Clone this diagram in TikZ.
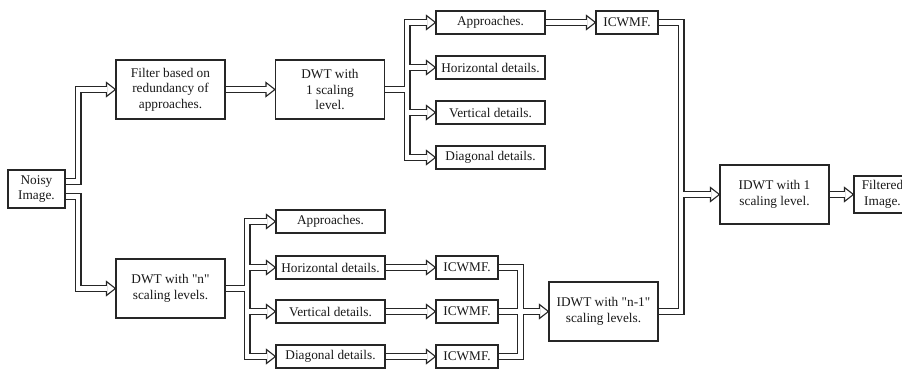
\documentclass[tikz,border=0pt]{standalone}
\usepackage{fontspec}
\setmainfont{Liberation Serif}
\pgfdeclarelayer{bg}
\pgfdeclarelayer{back}
\pgfsetlayers{back,bg,main}
\newcommand\allconns[1]{%
  % Noisy image split
  \draw[#1] ([yshift=7.5pt]noisy.east) -| (tA |- filter.west) -- (filter.west);
  \draw[#1] ([yshift=-7.5pt]noisy.east) -| (tA |- dwtn.west) -- (dwtn.west);
  % upper chain
  \draw[#1] (filter.east) -- (dwt1.west);
  \draw[#1] (dwt1.east) -| (tD |- app1.west) -- (app1.west);
  \draw[#1] (dwt1.east) -| (tD |- hor1.west) -- (hor1.west);
  \draw[#1] (dwt1.east) -| (tD |- ver1.west) -- (ver1.west);
  \draw[#1] (dwt1.east) -| (tD |- dia1.west) -- (dia1.west);
  \draw[#1] (app1.east) -- (icw1.west);
  % lower chain
  \draw[#1] (dwtn.east) -| (tE |- app2.west) -- (app2.west);
  \draw[#1] (dwtn.east) -| (tE |- hor2.west) -- (hor2.west);
  \draw[#1] (dwtn.east) -| (tE |- ver2.west) -- (ver2.west);
  \draw[#1] (dwtn.east) -| (tE |- dia2.west) -- (dia2.west);
  \draw[#1] (hor2.east) -- (icw2.west);
  \draw[#1] (ver2.east) -- (icw3.west);
  \draw[#1] (dia2.east) -- (icw4.west);
  \draw[#1] (icw2.east) -| (tB |- idwtn.west) -- (idwtn.west);
  \draw[#1] (icw3.east) -- (idwtn.west);
  \draw[#1] (icw4.east) -| (tB |- idwtn.west) -- (idwtn.west);
  % merge to final
  \draw[#1] (icw1.east) -| (tC |- idwt1.west) -- (idwt1.west);
  \draw[#1] (idwtn.east) -| (tC |- idwt1.west) -- (idwt1.west);
  \draw[#1] (idwt1.east) -- (filtered.west);
}
\newcommand\hollowtip[1]{\draw[tipst] (#1) -- ++(-9,-7) -- ++(0,14) -- cycle;}
\newcommand\qq{\textquotedbl}
\begin{document}
\begin{tikzpicture}[x=1pt,y=-1pt,
  box/.style={draw=black!85, line width=1.1pt, fill=white, align=center,
    inner sep=0pt, font=\fontsize{13.3}{15.5}\selectfont, text=black!90},
  wide/.style={box, minimum width=109pt, minimum height=59pt},
  slim/.style={box, minimum width=109pt, minimum height=23pt},
  icwbox/.style={box, minimum width=62pt, minimum height=23pt},
  small/.style={box, minimum width=57pt, minimum height=38pt},
  outerline/.style={draw=black!85, line width=7.0pt, shorten >=8pt},
  innerline/.style={draw=white, line width=4.8pt, shorten >=8pt},
  tipst/.style={draw=black!85, fill=white, line width=1.1pt, line join=miter}]
\useasboundingbox (0,0) rectangle (902,371);
\clip (0,0) rectangle (902,371);
\begin{pgfonlayer}{back}
\fill[white] (0,0) rectangle (902,371);
\end{pgfonlayer}

\node[small] (noisy) at (36.5,189) {Noisy\\Image.};
\node[wide] (filter) at (170.5,89.5) {Filter based on\\redundancy of\\approaches.};
\node[wide] (dwt1) at (330,89.5) {DWT with\\1 scaling\\level.};
\node[slim] (app1) at (490.5,22.5) {Approaches.};
\node[slim] (hor1) at (490.5,67.5) {Horizontal details.};
\node[slim] (ver1) at (490.5,112.5) {Vertical details.};
\node[slim] (dia1) at (490.5,157.5) {Diagonal details.};
\node[icwbox] (icw1) at (627,22.5) {ICWMF.};
\node[wide] (idwt1) at (774.5,194.5) {IDWT with 1\\scaling level.};
\node[small, minimum height=37pt] (filtered) at (882.5,194.5) {Filtered\\Image.};
\node[wide] (dwtn) at (170.5,288.5) {DWT with \qq n\qq\\scaling levels.};
\node[slim] (app2) at (330.5,221.5) {Approaches.};
\node[slim] (hor2) at (330.5,267.5) {Horizontal details.};
\node[slim] (ver2) at (330.5,311.5) {Vertical details.};
\node[slim] (dia2) at (330.5,356.5) {Diagonal details.};
\node[icwbox] (icw2) at (467,267.5) {ICWMF.};
\node[icwbox] (icw3) at (467,311.5) {ICWMF.};
\node[icwbox] (icw4) at (467,356.5) {ICWMF.};
\node[wide] (idwtn) at (603.5,311.5) {IDWT with \qq n-1\qq\\scaling levels.};

\coordinate (tA) at (78,0);
\coordinate (tD) at (407,0);
\coordinate (tE) at (247,0);
\coordinate (tB) at (520.5,0);
\coordinate (tC) at (681,0);

\begin{pgfonlayer}{bg}
\allconns{outerline}
\foreach \n in {filter,dwt1,app1,hor1,ver1,dia1,icw1,idwt1,filtered,dwtn,app2,hor2,ver2,dia2,icw2,icw3,icw4,idwtn}
  {\hollowtip{\n.west}}
\allconns{innerline}
\end{pgfonlayer}
\end{tikzpicture}
\end{document}
